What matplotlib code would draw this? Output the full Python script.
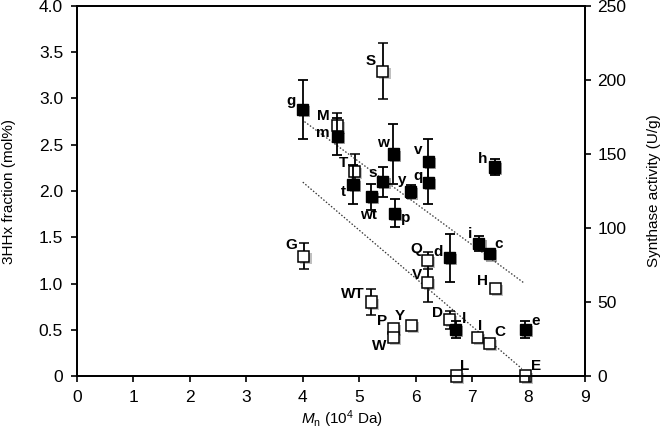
import matplotlib
matplotlib.use('Agg')
import matplotlib.pyplot as plt
import matplotlib.patheffects as pe

plt.rcParams['font.family'] = ['Liberation Sans', 'DejaVu Sans']
plt.rcParams['mathtext.fontset'] = 'custom'
plt.rcParams['mathtext.rm'] = 'Liberation Sans'
plt.rcParams['mathtext.it'] = 'Liberation Sans:italic'

# filled squares: 3HHx fraction (mol%), left axis
frac_names = ['g', 'm', 't', 's', 'wt', 'w', 'p', 'y', 'v', 'q', 'd', 'l', 'i', 'c', 'h', 'e']
frac_mn = [4.00, 4.61, 4.89, 5.42, 5.21, 5.60, 5.63, 5.91, 6.22, 6.22, 6.60, 6.71, 7.12, 7.31, 7.40, 7.94]
frac_val = [2.88, 2.59, 2.07, 2.10, 1.94, 2.40, 1.76, 1.99, 2.32, 2.09, 1.28, 0.50, 1.43, 1.32, 2.26, 0.50]
frac_err = [0.32, 0.20, 0.21, 0.16, 0.14, 0.32, 0.15, 0.07, 0.24, 0.23, 0.26, 0.09, 0.08, 0.03, 0.09, 0.09]

# open squares: synthase activity (U/g), right axis
act_names = ['G', 'M', 'T', 'S', 'WT', 'P', 'W', 'Y', 'Q', 'V', 'D', 'L', 'H', 'I', 'C', 'E']
act_mn = [4.02, 4.61, 4.92, 5.42, 5.21, 5.61, 5.61, 5.92, 6.21, 6.21, 6.60, 6.72, 7.42, 7.10, 7.31, 7.94]
act_val = [81, 169, 138, 206, 50, 32, 26, 34, 78, 63, 38, 0, 59, 26, 22, 0]
act_err = [9, 9, 12, 19, 9, 0, 0, 0, 6, 13, 6, 0, 0, 0, 0, 0]

# dotted trend lines
frac_fit_x = [4.03, 7.91]
frac_fit_y = [2.75, 1.01]
act_fit_x = [4.00, 7.88]
act_fit_y = [131, 5]

# label offsets in pixels (dx, dy)
frac_off = {'g': (-12, 9), 'm': (-14, 3), 't': (-10, -7), 's': (-10, 9), 'wt': (-3, -18),
            'w': (-10, 11), 'p': (11, -5), 'y': (-8, 12), 'v': (-10, 11), 'q': (-10, 7),
            'd': (-11, 6), 'l': (8, 11), 'i': (-9, 10), 'c': (9, 10), 'h': (-12, 8), 'e': (10, 9)}
act_off = {'G': (-13, 11), 'M': (-14, 10), 'T': (-11, 9), 'S': (-12, 10), 'WT': (-18, 8),
           'P': (-12, 8), 'W': (-14, -8), 'Y': (-11, 10), 'Q': (-11, 12), 'V': (-11, 8),
           'D': (-12, 7), 'L': (8, 10), 'H': (-13, 8), 'I': (2, 12), 'C': (10, 11), 'E': (11, 10)}

fig = plt.figure(figsize=(6.66, 4.36), dpi=100)
ax = fig.add_axes([77/666, 60/436, 508/666, 370/436])
ax2 = ax.twinx()

shadow = [pe.SimplePatchShadow(offset=(1.5, -1.5), alpha=0.35), pe.Normal()]

ax.plot(frac_fit_x, frac_fit_y, color='#333333', lw=0.9, ls=(0, (1.2, 1.5)), zorder=1)
ax2.plot(act_fit_x, act_fit_y, color='#333333', lw=0.9, ls=(0, (1.2, 1.5)), zorder=1)

cont = ax2.errorbar(act_mn, act_val, yerr=act_err, fmt='s', ms=8, mfc='white', mec='black',
                    mew=1.1, ecolor='black', elinewidth=1.3, capsize=3.5, capthick=1.3,
                    zorder=3, clip_on=False)
cont[0].set_path_effects(shadow)
for n, x, y in zip(act_names, act_mn, act_val):
    ax2.annotate(n, (x, y), xytext=act_off[n], textcoords='offset pixels', ha='center',
                 va='center', fontsize=11, fontweight='bold', annotation_clip=False)

cont = ax.errorbar(frac_mn, frac_val, yerr=frac_err, fmt='s', ms=8, mfc='black', mec='black',
                   ecolor='black', elinewidth=1.3, capsize=3.5, capthick=1.3, zorder=3, clip_on=False)
cont[0].set_path_effects(shadow)
for n, x, y in zip(frac_names, frac_mn, frac_val):
    ax.annotate(n, (x, y), xytext=frac_off[n], textcoords='offset pixels', ha='center',
                va='center', fontsize=11, fontweight='bold')

ax.set_zorder(ax2.get_zorder() + 1)
ax.patch.set_visible(False)

ax.set_xlim(0, 9)
ax.set_ylim(0, 4)
ax2.set_ylim(0, 250)
ax.set_xticks(range(0, 10))
ax.set_yticks([0, 0.5, 1, 1.5, 2, 2.5, 3, 3.5, 4])
ax.set_yticklabels(['0', '0.5', '1.0', '1.5', '2.0', '2.5', '3.0', '3.5', '4.0'])
ax2.set_yticks([0, 50, 100, 150, 200, 250])

for a in (ax, ax2):
    a.tick_params(direction='out', length=4, width=1.2, labelsize=12.5)
    for sp in a.spines.values():
        sp.set_linewidth(1.3)
ax.tick_params(axis='x', pad=6)
ax.tick_params(axis='y', pad=6)
ax2.tick_params(axis='y', pad=5)

ax.set_xlabel(r'$M_\mathrm{n}$ (10$^4$ Da)', fontsize=11)
ax.xaxis.set_label_coords((342 - 77) / 508, -0.087)
ax.set_ylabel('3HHx fraction (mol%)', fontsize=11)
ax.yaxis.set_label_coords(-0.12, 0.5)
ax2.set_ylabel('Synthase activity (U/g)', fontsize=11)
ax2.yaxis.set_label_coords(1.122, 0.5)

fig.savefig('out.png', dpi=100)
